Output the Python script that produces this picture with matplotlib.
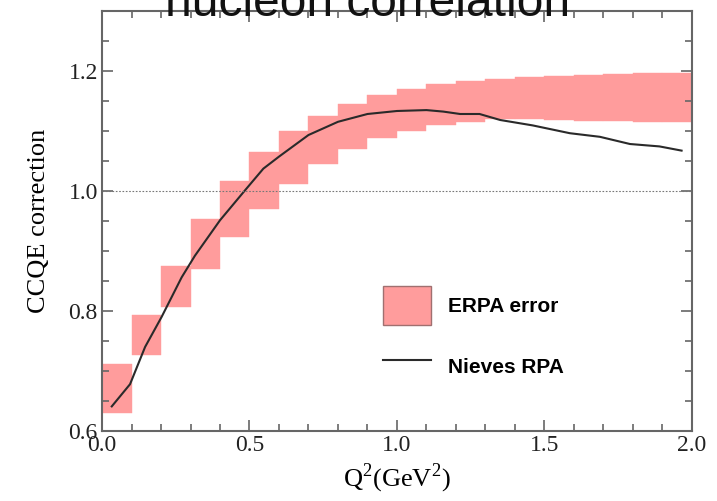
import numpy as np
import matplotlib
matplotlib.use("Agg")
import matplotlib.pyplot as plt
from matplotlib.ticker import MultipleLocator

plt.rcParams["mathtext.fontset"] = "custom"
plt.rcParams["mathtext.rm"] = "Liberation Serif"

# ERPA error band, one box per 0.1 GeV^2 bin
bin_left = [0.0, 0.1, 0.2, 0.3, 0.4, 0.5, 0.6, 0.7, 0.8, 0.9,
            1.0, 1.1, 1.2, 1.3, 1.4, 1.5, 1.6, 1.7, 1.8, 1.9]
err_lo = [0.630, 0.726, 0.807, 0.869, 0.923, 0.970, 1.012, 1.044, 1.069, 1.088,
          1.100, 1.110, 1.115, 1.119, 1.120, 1.118, 1.117, 1.116, 1.115, 1.114]
err_hi = [0.711, 0.793, 0.874, 0.953, 1.017, 1.065, 1.100, 1.125, 1.144, 1.159,
          1.169, 1.178, 1.183, 1.186, 1.189, 1.192, 1.193, 1.195, 1.196, 1.197]

# Nieves RPA curve
q2 = [0.033, 0.095, 0.146, 0.202, 0.27, 0.315, 0.40, 0.485, 0.547, 0.60,
      0.70, 0.80, 0.90, 1.00, 1.10, 1.157, 1.214, 1.28, 1.35, 1.46,
      1.586, 1.688, 1.79, 1.89, 1.965]
rpa = [0.641, 0.678, 0.740, 0.790, 0.856, 0.892, 0.951, 1.001, 1.037, 1.057,
       1.093, 1.115, 1.128, 1.133, 1.1345, 1.132, 1.128, 1.128, 1.118, 1.109,
       1.096, 1.090, 1.078, 1.074, 1.067]

fig = plt.figure(figsize=(7.17, 5.01), dpi=100)
ax = fig.add_axes([0.1423, 0.1397, 0.965 - 0.1423, 0.9786 - 0.1397])

heights = np.array(err_hi) - np.array(err_lo)
ax.bar(bin_left, heights, width=0.1, bottom=err_lo, align="edge",
       color="#ff9c9c", edgecolor="#ff9c9c", linewidth=0.3, label="ERPA error")
bar_handle = plt.Rectangle((0, 0), 1, 1, facecolor="#ff9c9c",
                           edgecolor="#a07070", linewidth=1.0)
line, = ax.plot(q2, rpa, color="#2a2a2a", linewidth=1.5, label="Nieves RPA")
ax.axhline(1.0, color="#777777", linestyle=(0, (1.5, 1.5)), linewidth=0.8)

ax.set_xlim(0, 2.0)
ax.set_ylim(0.6, 1.3)
ax.xaxis.set_major_locator(MultipleLocator(0.5))
ax.xaxis.set_minor_locator(MultipleLocator(0.1))
ax.yaxis.set_major_locator(MultipleLocator(0.2))
ax.yaxis.set_minor_locator(MultipleLocator(0.05))
ax.tick_params(which="both", direction="in", top=True, right=True,
               color="#666666", width=1.2)
ax.tick_params(which="major", length=8, labelsize=17, pad=3)
ax.tick_params(which="minor", length=5)
ax.set_xticks([0.0, 0.5, 1.0, 1.5, 2.0])
ax.set_xticklabels(["0.0", "0.5", "1.0", "1.5", "2.0"], family="Liberation Serif", color="#222222")
ax.set_yticks([0.6, 0.8, 1.0, 1.2])
ax.set_yticklabels(["0.6", "0.8", "1.0", "1.2"], family="Liberation Serif", color="#222222")
for sp in ax.spines.values():
    sp.set_color("#666666")
    sp.set_linewidth(1.5)

ax.set_xlabel(r"Q$^\mathregular{2}$(GeV$^\mathregular{2}$)", fontsize=19,
              family="Liberation Serif", labelpad=4)
ax.set_ylabel("CCQE correction", fontsize=19, family="Liberation Serif", labelpad=13)

leg = ax.legend([bar_handle, line], ["ERPA error", "Nieves RPA"],
                loc="upper left", bbox_to_anchor=(0.445, 0.39),
                frameon=False, handlelength=2.3, handleheight=2.5,
                handletextpad=0.8, labelspacing=1.05,
                prop={"family": "Liberation Sans", "weight": "bold", "size": 15})

fig.text(0.5126, 1 - 16 / 501, "nucleon correlation", ha="center", va="baseline",
         fontsize=34.5, family="Liberation Sans", color="#111111")

fig.savefig("out.png", dpi=100)
